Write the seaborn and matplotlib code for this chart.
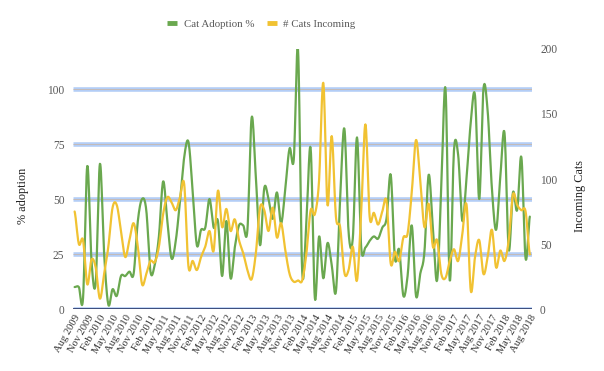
import numpy as np
import pandas as pd
import matplotlib
matplotlib.use("Agg")
import matplotlib.pyplot as plt
import seaborn as sns
from matplotlib.lines import Line2D

# ---------------- data ----------------
start_month = "2009-08"
adoption_pct = [10, 10, 5, 65, 22, 12, 66, 25, 2, 9,
                6, 15, 15, 17, 16, 40, 50, 45, 17, 20,
                33, 58, 40, 23, 31, 49, 69, 76, 54, 29,
                36, 37, 50, 37, 40, 15, 40, 14, 28, 38,
                38, 36, 87, 60, 29, 55, 50, 41, 53, 39,
                55, 73, 68, 118, 17, 40, 73, 5, 33, 14,
                30, 20, 8, 50, 82, 35, 32, 78, 28, 28,
                31, 33, 32, 37, 41, 61, 23, 27, 6, 15,
                38, 6, 16, 26, 61, 37, 13, 55, 100, 13,
                72, 70, 40, 60, 85, 97, 50, 100, 90, 55,
                36, 60, 80, 27, 53, 45, 69, 23, 42]
cats_incoming = [75, 50, 53, 19, 38, 32, 8, 27, 48, 78,
                 80, 60, 40, 53, 66, 48, 19, 27, 37, 36,
                 48, 73, 86, 82, 76, 86, 96, 33, 37, 30,
                 40, 48, 60, 45, 91, 63, 77, 60, 69, 53,
                 43, 30, 23, 43, 78, 76, 60, 78, 55, 66,
                 45, 27, 21, 22, 22, 43, 76, 73, 99, 174,
                 80, 133, 71, 63, 28, 30, 48, 22, 75, 142,
                 71, 74, 65, 75, 83, 35, 44, 37, 55, 58,
                 90, 130, 99, 63, 81, 48, 53, 27, 24, 37,
                 46, 37, 58, 80, 14, 40, 53, 27, 40, 61,
                 32, 45, 37, 53, 88, 80, 76, 75, 42]
series_names = ["Cat Adoption %", "# Cats Incoming"]
left_ticks = [0, 25, 50, 75, 100]
right_ticks = [0, 50, 100, 150, 200]

months = pd.date_range(start_month, periods=len(adoption_pct), freq="MS")
tick_idx = list(range(0, len(months), 3))
tick_labels = [months[i].strftime("%b %Y") for i in tick_idx]


def smooth(y, n=12):
    """Catmull-Rom smoothing through the data points."""
    y = np.asarray(y, float)
    p = np.concatenate([[y[0]], y, [y[-1]]])
    xs, ys = [], []
    t = np.linspace(0, 1, n, endpoint=False)
    for i in range(len(y) - 1):
        p0, p1, p2, p3 = p[i], p[i + 1], p[i + 2], p[i + 3]
        seg = 0.5 * ((2 * p1) + (-p0 + p2) * t + (2 * p0 - 5 * p1 + 4 * p2 - p3) * t ** 2
                     + (-p0 + 3 * p1 - 3 * p2 + p3) * t ** 3)
        xs.append(i + t)
        ys.append(seg)
    xs.append([len(y) - 1])
    ys.append([y[-1]])
    return np.concatenate(xs), np.concatenate(ys)


xg, yg = smooth(adoption_pct)
xy, yy = smooth(cats_incoming)
df_g = pd.DataFrame({"month": xg, "value": yg})
df_y = pd.DataFrame({"month": xy, "value": yy})

# ---------------- style ----------------
sns.set_theme(style="white")
plt.rcParams["font.family"] = ["Liberation Serif", "DejaVu Serif"]
green = "#6aa84f"
yellow = "#f1c232"
txt = "#595959"

fig = plt.figure(figsize=(6.04, 3.71), dpi=100)
ax = fig.add_axes([0.1204, 0.167, 0.7599, 0.701])
ax2 = ax.twinx()

n = len(adoption_pct)
ax.set_xlim(-0.45, n - 1 + 0.45)
ax.set_ylim(0, 118.2)
ax2.set_ylim(0, 200)

# gridlines (double blue with grey centre)
for v in left_ticks:
    ax.axhline(v, color="#b3cdf6", lw=3.3, zorder=0.5, solid_capstyle="butt")
    ax.axhline(v, color="#1c2a5c" if v == 0 else "#c4bbb8", lw=1.1 if v == 0 else 0.7,
               zorder=0.6, solid_capstyle="butt")

sns.lineplot(data=df_g, x="month", y="value", ax=ax, color=green, lw=1.6,
             estimator=None, sort=False, legend=False)
sns.lineplot(data=df_y, x="month", y="value", ax=ax2, color=yellow, lw=1.6,
             estimator=None, sort=False, legend=False)

for a in (ax, ax2):
    for s in a.spines.values():
        s.set_visible(False)
    a.tick_params(length=0)
    a.grid(False)

ax.set_yticks(left_ticks)
ax.set_yticklabels([str(v) for v in left_ticks], fontsize=8.3, color=txt)
ax2.set_yticks(right_ticks)
ax2.set_yticklabels([str(v) for v in right_ticks], fontsize=8.3, color=txt)
ax.tick_params(axis="y", pad=6)
ax2.tick_params(axis="y", pad=6)

ax.set_xticks(tick_idx)
ax.set_xticklabels(tick_labels, rotation=60, ha="right", rotation_mode="anchor",
                   fontsize=7.6, color="#333333")
ax.tick_params(axis="x", pad=3)

ax.set_xlabel("")
ax.set_ylabel("% adoption", fontsize=8.8, color="#222222")
ax2.set_ylabel("Incoming Cats", fontsize=8.8, color="#222222")
ax.yaxis.set_label_coords(-0.095, 0.435)
ax2.yaxis.set_label_coords(1.092, 0.435)

handles = [Line2D([], [], color=green, lw=3.5, solid_capstyle="butt"),
           Line2D([], [], color=yellow, lw=3.5, solid_capstyle="butt")]
fig.legend(handles, series_names, loc="center", bbox_to_anchor=(0.433, 0.935), ncol=2,
           frameon=False, fontsize=7.8, handlelength=0.9, handletextpad=0.6,
           columnspacing=1.2, labelcolor=txt)

fig.savefig("out.png", dpi=100)
